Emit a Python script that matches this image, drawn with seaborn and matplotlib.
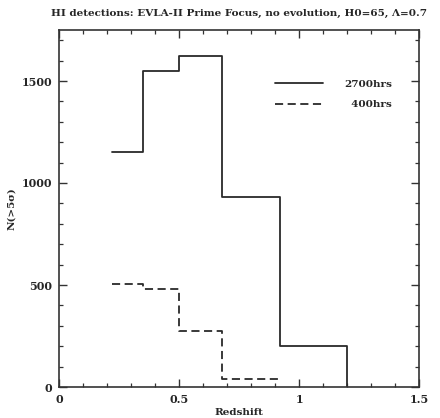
import matplotlib
matplotlib.use("Agg")
import matplotlib.pyplot as plt
import seaborn as sns
import pandas as pd
from matplotlib.ticker import MultipleLocator

# Data
edges_2700 = [0.22, 0.35, 0.50, 0.68, 0.92, 1.20]
counts_2700 = [1150, 1550, 1625, 930, 200]
edges_400 = [0.22, 0.35, 0.50, 0.68, 0.92]
counts_400 = [505, 480, 275, 40]
series_names = ["2700hrs", "400hrs"]

# Build step tables (steps-post: repeat last value at right edge)
rows = []
for z, n in zip(edges_2700, counts_2700 + [counts_2700[-1]]):
    rows.append(("2700hrs", z, n))
rows.append(("2700hrs", edges_2700[-1], 0))
for z, n in zip(edges_400, counts_400 + [counts_400[-1]]):
    rows.append(("400hrs", z, n))
df = pd.DataFrame(rows, columns=["series", "z", "N"])

sns.set_theme(style="ticks")
plt.rcParams["font.family"] = ["DejaVu Serif"]
plt.rcParams["font.weight"] = "bold"

fig = plt.figure(figsize=(4.4, 4.18), dpi=100)
ax = fig.add_axes([59/440, 1-387/418, 360/440, 357/418])

sns.lineplot(data=df, x="z", y="N", style="series", style_order=series_names,
             dashes={"2700hrs": "", "400hrs": (4.5, 2.5)},
             color="#2a2a2a", linewidth=1.3, estimator=None, sort=False,
             drawstyle="steps-post", ax=ax)

ax.set_xlim(0, 1.5)
ax.set_ylim(0, 1750)
ax.xaxis.set_major_locator(MultipleLocator(0.5))
ax.xaxis.set_minor_locator(MultipleLocator(0.1))
ax.yaxis.set_major_locator(MultipleLocator(500))
ax.yaxis.set_minor_locator(MultipleLocator(100))
ax.set_xticks([0, 0.5, 1, 1.5])
ax.set_xticklabels(["0", "0.5", "1", "1.5"])
ax.tick_params(which="both", direction="in", top=True, right=True, color="#333333",
               labelsize=8, pad=5)
ax.tick_params(which="major", length=6, width=1)
ax.tick_params(which="minor", length=3, width=0.9)
for s in ax.spines.values():
    s.set_linewidth(1.2)
    s.set_color("#333333")

ax.set_xlabel("Redshift", fontsize=7.5, fontweight="bold", labelpad=2)
ax.set_ylabel("N(>5σ)", fontsize=7.5, fontweight="bold", labelpad=4)
ax.set_title("HI detections: EVLA-II Prime Focus, no evolution, H0=65, Λ=0.7",
             fontsize=7.5, fontweight="bold", x=0.5, pad=10)

handles, labels = ax.get_legend_handles_labels()
labels = ["2700hrs", "  400hrs"]
leg = ax.legend(handles, labels, frameon=False, loc="upper left",
                bbox_to_anchor=(0.575, 0.888),
                handlelength=4.6, handletextpad=2.0, fontsize=7.5, labelspacing=1.1)
for t in leg.get_texts():
    t.set_fontweight("bold")

fig.savefig("out.png", dpi=100)
